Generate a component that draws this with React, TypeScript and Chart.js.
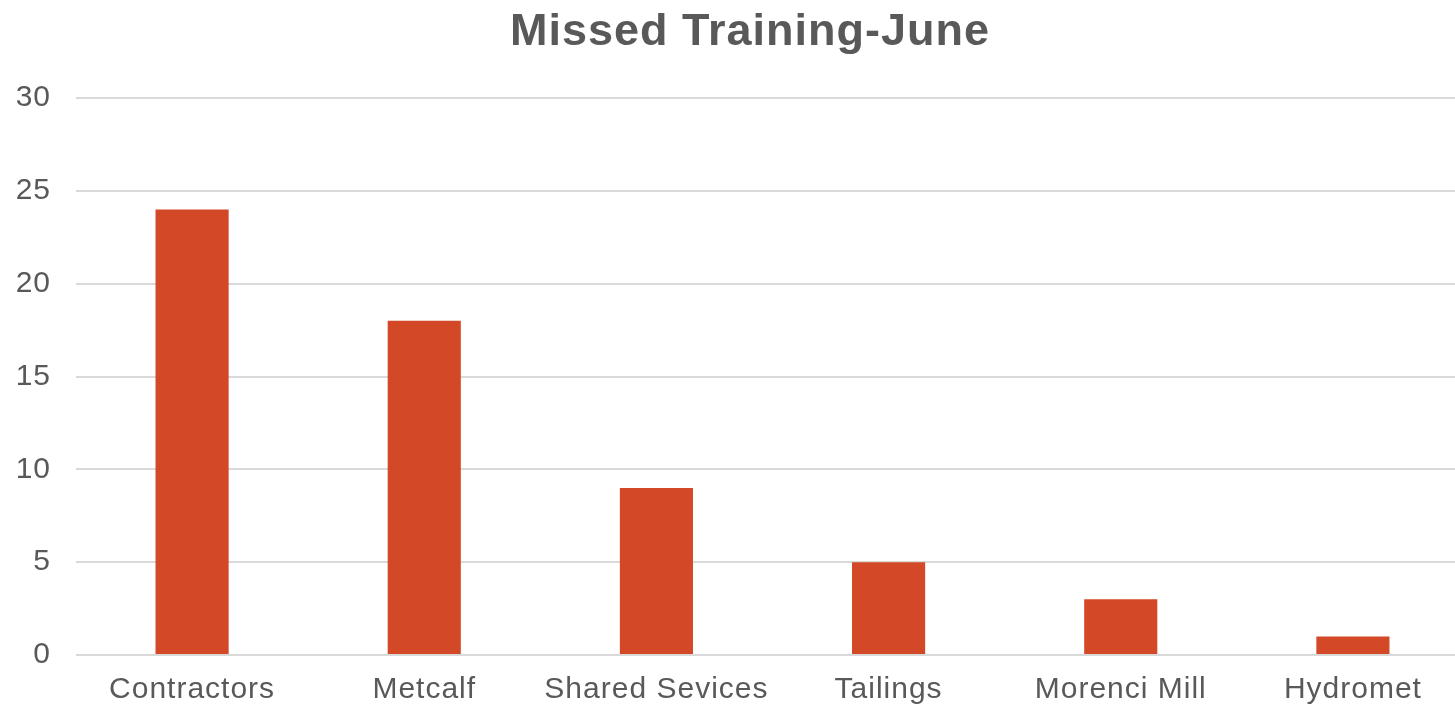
import React, { useEffect, useRef } from "react";
import { Chart, registerables } from "chart.js";

Chart.register(...registerables);

const chartTitle = "Missed Training-June";
const categories = ["Contractors", "Metcalf", "Shared Sevices", "Tailings", "Morenci Mill", "Hydromet"];
const missedValues = [24, 18, 9, 5, 3, 1];
const yMin = 0;
const yMax = 30;
const yStep = 5;

const TEXT = "#595959";
const GRID = "#d9d9d9";
const BAR = "#D34826";
const FONT = "'Liberation Sans', Arial, sans-serif";

const spacingPlugin = {
  id: "letterSpacing",
  beforeInit(chart: any) {
    chart.ctx.letterSpacing = "1px";
  },
  beforeUpdate(chart: any) {
    chart.ctx.letterSpacing = "1px";
  },
  beforeDraw(chart: any) {
    chart.ctx.letterSpacing = "1px";
  },
};

export default function App() {
  const ref = useRef<HTMLCanvasElement | null>(null);

  useEffect(() => {
    if (!ref.current) return;
    const chart = new Chart(ref.current, {
      type: "bar",
      data: {
        labels: categories,
        datasets: [
          {
            label: chartTitle,
            data: missedValues,
            backgroundColor: BAR,
            borderWidth: 0,
            barPercentage: 0.315,
            categoryPercentage: 1,
          },
        ],
      },
      plugins: [spacingPlugin],
      options: {
        responsive: false,
        animation: false,
        devicePixelRatio: 1,
        layout: { padding: 0 },
        plugins: {
          legend: { display: false },
          tooltip: { enabled: false },
          title: {
            display: true,
            text: chartTitle,
            color: TEXT,
            font: { family: FONT, size: 45, weight: "bold" },
            padding: { top: 6, bottom: 38 },
          },
        },
        scales: {
          x: {
            grid: { display: false, drawTicks: false },
            border: { display: false },
            ticks: {
              color: TEXT,
              font: { family: FONT, size: 30 },
              padding: 17,
              maxRotation: 0,
              autoSkip: false,
            },
            afterFit(scale: any) {
              scale.height = 53;
            },
          },
          y: {
            min: yMin,
            max: yMax,
            grid: { color: GRID, lineWidth: 2, drawTicks: false },
            border: { display: false },
            ticks: {
              stepSize: yStep,
              color: TEXT,
              font: { family: FONT, size: 30 },
              padding: 25,
            },
            afterFit(scale: any) {
              scale.width = 76;
            },
          },
          yR: {
            position: "right",
            display: true,
            grid: { display: false, drawTicks: false },
            border: { display: false },
            ticks: { display: false },
            afterFit(scale: any) {
              scale.width = 31;
            },
          },
        },
      },
    } as any);
    return () => chart.destroy();
  }, []);

  return (
    <div
      style={{
        position: "fixed",
        left: 0,
        top: 0,
        width: 1455,
        height: 708,
        overflow: "hidden",
        background: "#fff",
      }}
    >
      <canvas ref={ref} width={1500} height={708} style={{ display: "block" }} />
    </div>
  );
}
